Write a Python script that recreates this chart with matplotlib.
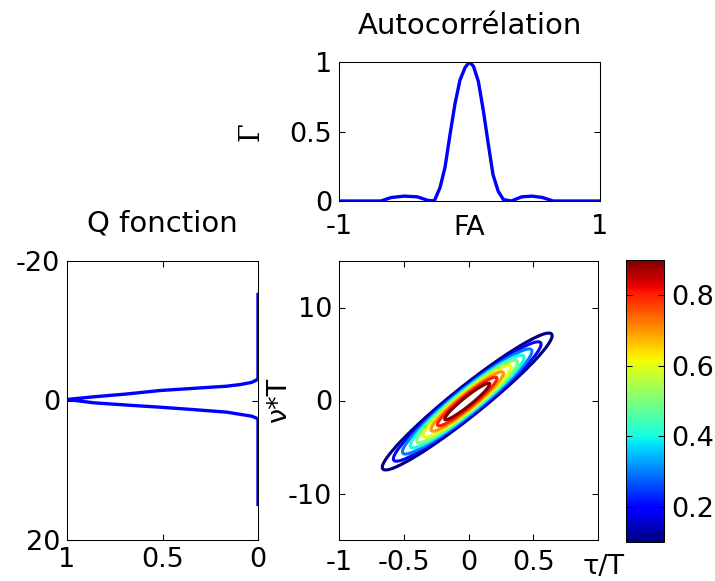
import numpy as np
import matplotlib
matplotlib.use("Agg")
import matplotlib.pyplot as plt
from matplotlib import cm, colors

plt.rcParams['font.family'] = ['DejaVu Sans']
plt.rcParams['font.size'] = 19.5
plt.rcParams['axes.linewidth'] = 0.75
plt.rcParams['axes.unicode_minus'] = False

# Autocorrelation
tau_ac = [-1.0, -0.68, -0.6, -0.5, -0.4, -0.32, -0.27, -0.226, -0.188, -0.149, -0.111,
          -0.073, -0.034, 0.0, 0.03, 0.068, 0.106, 0.144, 0.18, 0.22, 0.26, 0.32,
          0.4, 0.48, 0.56, 0.64, 1.0]
gamma_ac = [0.0, 0.0, 0.025, 0.035, 0.03, 0.005, 0.0, 0.096, 0.24, 0.48, 0.70,
            0.87, 0.96, 1.0, 0.97, 0.86, 0.65, 0.41, 0.19, 0.07, 0.01, 0.0,
            0.03, 0.035, 0.025, 0.0, 0.0]

# Q function (zero-delay cut), value vs nu*T
q_nu = [-15.2, -3.15, -2.9, -2.6, -2.3, -2.05, -1.43, -0.9, -0.53, -0.15,
        0.33, 0.65, 0.96, 1.3, 1.67, 2.25, 2.5, 2.7, 14.9]
q_val = [0.0, 0.0, 0.01, 0.033, 0.09, 0.164, 0.513, 0.70, 0.86, 1.0,
         0.86, 0.69, 0.513, 0.34, 0.164, 0.033, 0.01, 0.0, 0.0]

# Ambiguity contours: level, half length along the ridge (tau/T), half width across (nu*T)
levels = [0.1, 0.2, 0.3, 0.4, 0.5, 0.6, 0.7, 0.8, 0.9]
half_len = [0.655, 0.57, 0.50, 0.44, 0.39, 0.34, 0.28, 0.23, 0.175]
half_wid = [2.0, 1.82, 1.66, 1.5, 1.35, 1.2, 1.03, 0.84, 0.6]
ridge_slope = 10.8
ridge_tau0 = -0.01

# build a field whose contours pass through the ellipses read above
tau_g = np.linspace(-1, 1, 701)
nu_g = np.linspace(-15, 15, 701)
T, N = np.meshgrid(tau_g, nu_g)
u = T - ridge_tau0
d = N - ridge_slope * T
a = np.array(half_len)[:, None, None]
b = np.array(half_wid)[:, None, None]
g = np.sqrt((u / a) ** 2 + (d / b) ** 2)
lev = np.array(levels)
n = len(lev)
k = (g <= 1).sum(axis=0)
Z = np.empty_like(T)
out = k == 0
Z[out] = lev[0] / g[0][out]
inn = k == n
Z[inn] = lev[-1] + (1 - g[-1][inn]) * 0.05
mid = ~(out | inn)
kk = k[mid]
rows, cols = np.nonzero(mid)
g_lo = g[kk - 1, rows, cols]
g_hi = g[kk, rows, cols]
t = (1 - g_lo) / (g_hi - g_lo)
Z[mid] = lev[kk - 1] + t * (lev[kk] - lev[kk - 1])

W, H = 715, 581
fig = plt.figure(figsize=(W / 100, H / 100), dpi=100)


def box(l, r, top, bot):
    return [l / W, (H - bot) / H, (r - l) / W, (bot - top) / H]


def style(ax):
    ax.tick_params(direction='in', length=4, width=0.75, top=True, right=True, pad=5)


# top: autocorrelation
ax_top = fig.add_axes(box(339, 600, 62, 201))
ax_top.plot(tau_ac, gamma_ac, color='#0000ff', lw=2.4)
ax_top.set_xlim(-1, 1)
ax_top.set_ylim(0, 1)
ax_top.set_xticks([-1, 1])
ax_top.set_xticklabels(['-1', '1'])
ax_top.set_yticks([0, 0.5, 1])
ax_top.set_yticklabels(['0', '0.5', '1'])
ax_top.set_title('Autocorrélation', pad=20, fontsize=21)
ax_top.set_xlabel('FA')
ax_top.xaxis.set_label_coords(0.5, -0.1)
ax_top.set_ylabel('Γ', family='DejaVu Serif')
ax_top.yaxis.set_label_coords(-0.285, 0.5)
style(ax_top)
ax_top.tick_params(axis='x', pad=9)

# left: Q function
ax_q = fig.add_axes(box(67, 258, 261, 540))
ax_q.plot(q_val, q_nu, color='#0000ff', lw=2.4)
ax_q.set_xlim(1, 0)
ax_q.set_ylim(20, -20)
ax_q.set_xticks([1, 0.5, 0])
ax_q.set_xticklabels(['1', '0.5', '0'])
ax_q.set_yticks([-20, 0, 20])
ax_q.set_title('Q fonction', pad=21, fontsize=21)
style(ax_q)

# main: ambiguity contour
norm = colors.Normalize(vmin=0.1, vmax=0.9)
ax = fig.add_axes(box(339, 598, 261, 540))
ax.contour(T, N, Z, levels=levels, cmap='jet', norm=norm, linewidths=2.2)
ax.set_xlim(-1, 1)
ax.set_ylim(-15, 15)
ax.set_xticks([-1, -0.5, 0, 0.5, 1])
ax.set_xticklabels(['-1', '-0.5', '0', '0.5', ''])
ax.set_yticks([-10, 0, 10])
ax.set_xlabel('τ/T')
ax.xaxis.set_label_coords(1.02, -0.05)
ax.set_ylabel('ν*T')
ax.yaxis.set_label_coords(-0.18, 0.5)
style(ax)
ax.tick_params(axis='x', pad=7)

cax = fig.add_axes(box(626, 664, 260, 542))
sm = cm.ScalarMappable(norm=norm, cmap='jet')
cb = fig.colorbar(sm, cax=cax, ticks=[0.2, 0.4, 0.6, 0.8])
cb.ax.tick_params(direction='in', length=4, width=0.75, left=True, right=True, pad=5)
cb.outline.set_linewidth(0.75)

fig.savefig('out.png', dpi=100)
